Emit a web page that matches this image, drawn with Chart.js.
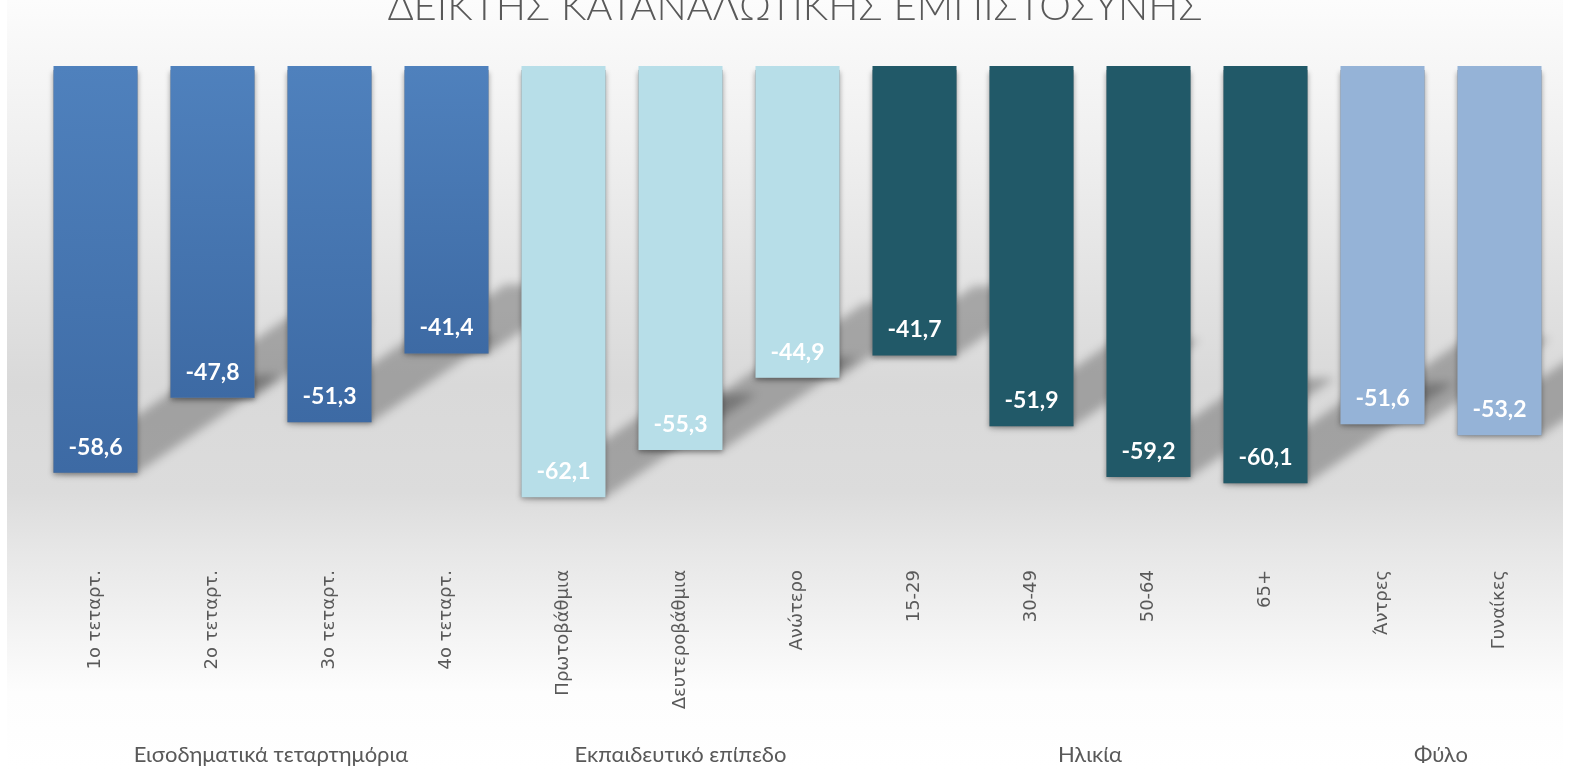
<!DOCTYPE html>
<html><head><meta charset="utf-8">
<script src="https://cdn.jsdelivr.net/npm/chart.js@4/dist/chart.umd.min.js"></script>
<style>html,body{margin:0;padding:0;background:#fff;overflow:hidden}#wrap{width:1570px;height:769px;position:relative}</style>
</head><body><div id="wrap"><canvas id="c" width="1570" height="769"></canvas></div>
<script>
const chartTitle = 'ΔΕΙΚΤΗΣ ΚΑΤΑΝΑΛΩΤΙΚΗΣ ΕΜΠΙΣΤΟΣΥΝΗΣ';
const categories = ['1ο τεταρτ.','2ο τεταρτ.','3ο τεταρτ.','4ο τεταρτ.','Πρωτοβάθμια','Δευτεροβάθμια','Ανώτερο','15-29','30-49','50-64','65+','Άντρες','Γυναίκες'];
const values = [-58.6,-47.8,-51.3,-41.4,-62.1,-55.3,-44.9,-41.7,-51.9,-59.2,-60.1,-51.6,-53.2];
const groupNames = ['Εισοδηματικά τεταρτημόρια','Εκπαιδευτικό επίπεδο','Ηλικία','Φύλο'];
const groupOfCategory = [0,0,0,0,1,1,1,2,2,2,2,3,3];

const groupColors = ['#4A7AB6','#B7DEE8','#215968','#95B3D7'];
const GREY = '#595959';

function fmt(v){ return v.toFixed(1).replace('.', ','); }

const bgPlugin = {
  id:'bg',
  beforeDraw(chart){
    const ctx = chart.ctx;
    ctx.save();
    ctx.fillStyle = '#ffffff';
    ctx.fillRect(0,0,chart.width,chart.height);
    const g = ctx.createLinearGradient(0,0,0,769);
    g.addColorStop(0,'#fcfcfc');
    g.addColorStop(0.18,'#f0f0f0');
    g.addColorStop(0.5,'#d9d9d9');
    g.addColorStop(0.64,'#dcdcdc');
    g.addColorStop(0.71,'#e6e6e6');
    g.addColorStop(0.9,'#fdfdfd');
    g.addColorStop(1,'#ffffff');
    ctx.fillStyle = g;
    ctx.fillRect(7,0,1556,769);
    ctx.restore();
  }
};

const shadowPlugin = {
  id:'shadows',
  beforeDatasetsDraw(chart){
    const ctx = chart.ctx;
    const meta = chart.getDatasetMeta(0);
    ctx.save();
    ctx.beginPath(); ctx.rect(7,0,1556,769); ctx.clip();
    ctx.filter = 'blur(5px)';
    ctx.fillStyle = 'rgba(0,0,0,0.26)';
    meta.data.forEach(el=>{
      const h = el.y - el.base;
      const l = el.x - el.width/2, r = el.x + el.width/2;
      const dx = 0.35*h, dy = 0.24*h;
      ctx.beginPath();
      ctx.moveTo(l, el.y); ctx.lineTo(r, el.y);
      ctx.lineTo(r+dx, el.y-dy); ctx.lineTo(l+dx, el.y-dy);
      ctx.closePath(); ctx.fill();
    });
    ctx.filter = 'none';
    ctx.shadowColor = 'rgba(0,0,0,0.35)';
    ctx.shadowBlur = 5; ctx.shadowOffsetY = 2;
    ctx.fillStyle = '#888';
    meta.data.forEach(el=>{
      ctx.fillRect(el.x - el.width/2, el.base + 4, el.width, el.y - el.base - 4);
    });
    ctx.restore();
  }
};

const textPlugin = {
  id:'texts',
  afterDatasetsDraw(chart){
    const ctx = chart.ctx;
    const meta = chart.getDatasetMeta(0);
    ctx.save();
    ctx.fillStyle = '#ffffff';
    ctx.font = 'bold 23px Lato, "Open Sans", sans-serif';
    ctx.textAlign = 'center'; ctx.textBaseline = 'middle';
    meta.data.forEach((el,i)=>{
      ctx.fillText(fmt(values[i]), el.x, el.y - 25.5);
    });
    // group labels
    const xs = chart.scales.x;
    ctx.fillStyle = GREY;
    ctx.font = '22px Lato, "Open Sans", sans-serif';
    groupNames.forEach((name,g)=>{
      const idx = groupOfCategory.map((gg,i)=>gg===g?i:-1).filter(i=>i>=0);
      const cx = idx.reduce((s,i)=>s+xs.getPixelForValue(i),0)/idx.length;
      ctx.fillText(name, cx, 755);
    });
    // title
    ctx.font = '300 40px Lato, "Open Sans", sans-serif';
    ctx.textBaseline = 'alphabetic';
    ctx.fillText(chartTitle, 795, 20);
    ctx.restore();
  }
};

new Chart(document.getElementById('c'), {
  type:'bar',
  data:{
    labels: categories,
    datasets:[{
      data: values,
      borderWidth:0,
      barPercentage:0.718,
      categoryPercentage:1,
      backgroundColor:(c)=>{
        const i = c.dataIndex;
        const g = groupOfCategory[i];
        if (g !== 0) return groupColors[g];
        const chart = c.chart;
        const ys = chart.scales && chart.scales.y;
        if (!ys || !chart.chartArea) return groupColors[0];
        const top = ys.getPixelForValue(0), bot = ys.getPixelForValue(values[i]);
        if (!isFinite(top) || !isFinite(bot) || bot === top) return groupColors[0];
        const gr = chart.ctx.createLinearGradient(0, top, 0, bot);
        gr.addColorStop(0,'#4F81BD'); gr.addColorStop(1,'#3D6AA4');
        return gr;
      }
    }]
  },
  options:{
    responsive:false,
    animation:false,
    events:[],
    layout:{padding:{left:37,right:12,top:66,bottom:0}},
    plugins:{legend:{display:false},tooltip:{enabled:false},title:{display:false}},
    scales:{
      x:{
        grid:{display:false},
        border:{display:false},
        ticks:{
          color:GREY,
          font:{family:'"DejaVu Sans", Verdana, sans-serif', size:18},
          minRotation:90, maxRotation:90, autoSkip:false, padding:10
        },
        afterFit(s){ s.height = 217; }
      },
      y:{display:false, min:-70, max:0}
    }
  },
  plugins:[bgPlugin, shadowPlugin, textPlugin]
});
</script>
</body></html>
